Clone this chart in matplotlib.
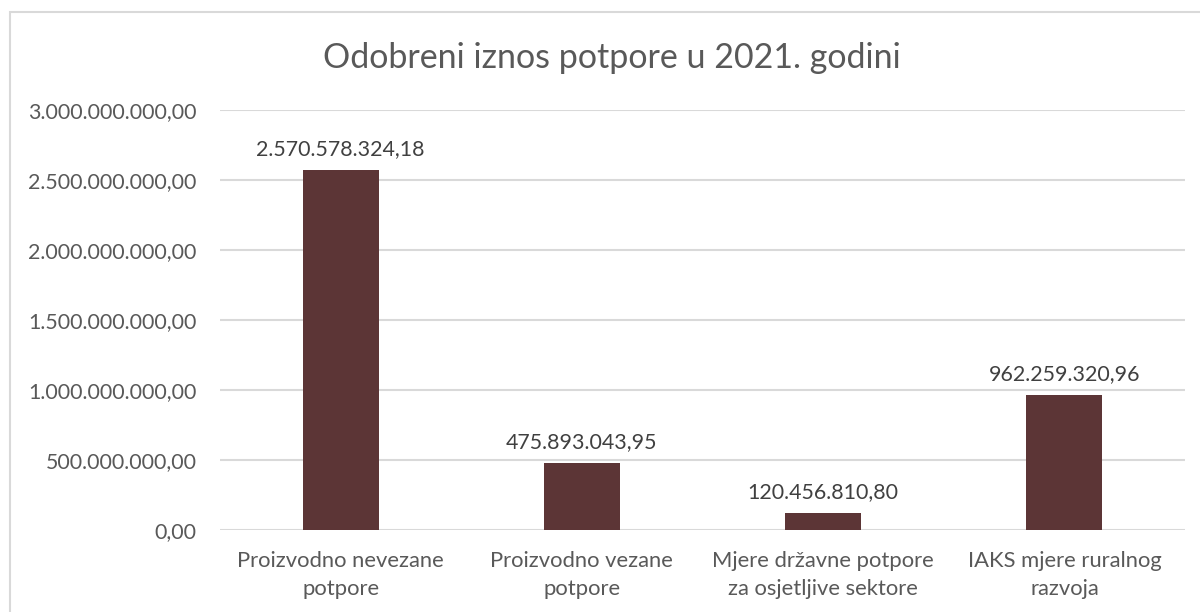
import matplotlib
matplotlib.use("Agg")
import matplotlib.pyplot as plt
from matplotlib.patches import Rectangle
from matplotlib.ticker import FuncFormatter

categories = ["Proizvodno nevezane\npotpore", "Proizvodno vezane\npotpore",
              "Mjere državne potpore\nza osjetljive sektore", "IAKS mjere ruralnog\nrazvoja"]
values = [2570578324.18, 475893043.95, 120456810.80, 962259320.96]
title = "Odobreni iznos potpore u 2021. godini"

plt.rcParams['font.family'] = ['Lato', 'DejaVu Sans']
txt = '#595959'

def hr(v):
    s = f"{v:,.2f}"
    return s.replace(",", "X").replace(".", ",").replace("X", ".")

fig = plt.figure(figsize=(12, 6.12), dpi=100)
fig.patches.append(Rectangle((10/1200, -0.1), 1.2, 1 - 12/612 + 0.1, transform=fig.transFigure,
                             fill=False, edgecolor='#D9D9D9', linewidth=1.5))
ax = fig.add_axes([220/1200, 1 - 530/612, 965/1200, 420/612])
x = range(len(categories))
bars = ax.bar(x, values, width=0.315, color='#5C3536', zorder=3)
ax.set_ylim(0, 3e9)
ax.set_xlim(-0.5, 3.5)
ax.set_yticks([i * 5e8 for i in range(7)])
ax.yaxis.set_major_formatter(FuncFormatter(lambda v, p: hr(v)))
ax.grid(axis='y', color='#D9D9D9', linewidth=1.5, zorder=0)
for s in ax.spines.values():
    s.set_visible(False)
ax.tick_params(axis='y', length=0, colors=txt, labelsize=15.4, pad=17)
ax.tick_params(axis='x', length=0, colors=txt, labelsize=15.8, pad=15)
ax.set_xticks(list(x))
ax.set_xticklabels(categories, linespacing=1.5)
for b, v in zip(bars, values):
    ax.annotate(hr(v), (b.get_x() + b.get_width() / 2, v), xytext=(0, 8),
                textcoords='offset points', ha='center', va='bottom', color='#404040', fontsize=15.4)
fig.text(612/1200, 1 - 58/612, title, ha='center', va='center', fontsize=24.5, color=txt)
fig.savefig('out.png', dpi=100)
